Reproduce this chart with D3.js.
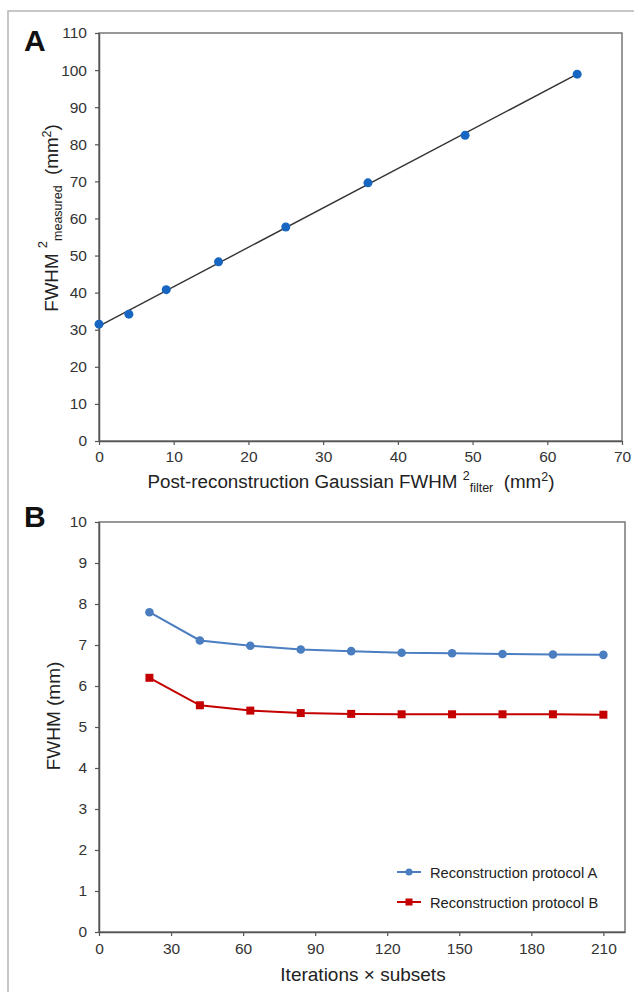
<!DOCTYPE html>
<html>
<head>
<meta charset="utf-8">
<script src="https://cdn.jsdelivr.net/npm/d3@7"></script>
<style>
  html, body { margin: 0; padding: 0; background: #fff; }
  svg { display: block; font-family: Arial, "Liberation Sans", sans-serif; }
</style>
</head>
<body>
<svg id="chart" width="634" height="992"></svg>
<script>
// ---------- Panel A data ----------
const aFilterSq = [0, 4, 9, 16, 25, 36, 49, 64];
const aMeasuredSq = [31.5, 34.2, 40.8, 48.3, 57.7, 69.6, 82.4, 98.9];
const aFitX = [0, 64];
const aFitY = [31.0, 98.9];
const aXTicks = [0, 10, 20, 30, 40, 50, 60, 70];
const aYTicks = [0, 10, 20, 30, 40, 50, 60, 70, 80, 90, 100, 110];

// ---------- Panel B data ----------
const bIterSubsets = [21, 42, 63, 84, 105, 126, 147, 168, 189, 210];
const bProtocolA = [7.80, 7.11, 6.98, 6.89, 6.85, 6.81, 6.80, 6.78, 6.77, 6.76];
const bProtocolB = [6.20, 5.53, 5.40, 5.34, 5.32, 5.31, 5.31, 5.31, 5.31, 5.30];
const bXTicks = [0, 30, 60, 90, 120, 150, 180, 210];
const bYTicks = [0, 1, 2, 3, 4, 5, 6, 7, 8, 9, 10];
const bSeriesNames = ["Reconstruction protocol A", "Reconstruction protocol B"];

const svg = d3.select("#chart");
const axisColor = "#555";
const titleSizeA = 18.8;
const titleSizeB = 19;

// outer frame
svg.append("rect").attr("x", 8).attr("y", 11).attr("width", 700).attr("height", 1100)
  .attr("fill", "none").attr("stroke", "#b5b5b5").attr("stroke-width", 1.5);

function styleAxis(g) {
  g.selectAll(".domain").attr("stroke", axisColor).attr("stroke-width", 1.5);
  g.selectAll(".tick line").attr("stroke", axisColor).attr("stroke-width", 1.2);
  g.selectAll(".tick text").attr("font-size", 15.5).attr("fill", "#333");
}

// ================= Panel A =================
{
  const L = 99, R = 622, T = 33, B = 441;
  const x = d3.scaleLinear().domain([0, 70]).range([L, R]);
  const y = d3.scaleLinear().domain([0, 110]).range([B, T]);

  svg.append("rect").attr("x", L).attr("y", T).attr("width", R - L).attr("height", B - T)
    .attr("fill", "none").attr("stroke", "#777").attr("stroke-width", 1.5);

  const gx = svg.append("g").attr("transform", `translate(0,${B})`)
    .call(d3.axisBottom(x).tickValues(aXTicks).tickSize(4).tickSizeOuter(0).tickPadding(6));
  styleAxis(gx);
  const gy = svg.append("g").attr("transform", `translate(${L},0)`)
    .call(d3.axisLeft(y).tickValues(aYTicks).tickSize(4).tickSizeOuter(0).tickPadding(8));
  styleAxis(gy);

  // fit line
  const fit = aFitX.map((v, i) => [v, aFitY[i]]);
  svg.append("path").datum(fit)
    .attr("d", d3.line().x(d => x(d[0])).y(d => y(d[1])))
    .attr("fill", "none").attr("stroke", "#333").attr("stroke-width", 1.4);

  svg.append("g").selectAll("circle").data(aFilterSq.map((v, i) => [v, aMeasuredSq[i]]))
    .join("circle")
    .attr("cx", d => x(d[0])).attr("cy", d => y(d[1])).attr("r", 4.5)
    .attr("fill", "#1766c2");

  svg.append("text").attr("x", 24).attr("y", 51).attr("font-size", 30)
    .attr("font-weight", "bold").attr("fill", "#111").text("A");

  // x title
  const xt = svg.append("text").attr("x", 351).attr("y", 488).attr("text-anchor", "middle")
    .attr("font-size", titleSizeA).attr("fill", "#222");
  xt.append("tspan").text("Post-reconstruction Gaussian FWHM ");
  xt.append("tspan").attr("font-size", 12.5).attr("dy", -8).text("2");
  xt.append("tspan").attr("font-size", 12.5).attr("dy", 12).text("filter");
  xt.append("tspan").attr("dy", -4).text("\u00a0 (mm");
  xt.append("tspan").attr("font-size", 12.5).attr("dy", -7).text("2");
  xt.append("tspan").attr("dy", 7).text(")");

  // y title
  const yt = svg.append("text").attr("transform", `translate(58,218) rotate(-90)`)
    .attr("text-anchor", "middle").attr("font-size", titleSizeA).attr("fill", "#222");
  yt.append("tspan").text("FWHM ");
  yt.append("tspan").attr("font-size", 13).attr("dy", -11).text("2");
  yt.append("tspan").attr("font-size", 12.5).attr("dy", 15).text("measured");
  yt.append("tspan").attr("dy", -4).text("\u00a0 (mm");
  yt.append("tspan").attr("font-size", 12.5).attr("dy", -7).text("2");
  yt.append("tspan").attr("dy", 7).text(")");
}

// ================= Panel B =================
{
  const L = 99, R = 625, T = 522, B = 932;
  const x = d3.scaleLinear().domain([0, 219]).range([L, R]);
  const y = d3.scaleLinear().domain([0, 10]).range([B, T]);

  svg.append("rect").attr("x", L).attr("y", T).attr("width", R - L).attr("height", B - T)
    .attr("fill", "none").attr("stroke", "#777").attr("stroke-width", 1.5);

  const gx = svg.append("g").attr("transform", `translate(0,${B})`)
    .call(d3.axisBottom(x).tickValues(bXTicks).tickSize(4).tickSizeOuter(0).tickPadding(7));
  styleAxis(gx);
  const gy = svg.append("g").attr("transform", `translate(${L},0)`)
    .call(d3.axisLeft(y).tickValues(bYTicks).tickSize(4).tickSizeOuter(0).tickPadding(8));
  styleAxis(gy);

  const colA = "#4a7ec0", colB = "#c40000";
  const line = d3.line().x(d => x(d[0])).y(d => y(d[1]));
  const dA = bIterSubsets.map((v, i) => [v, bProtocolA[i]]);
  const dB = bIterSubsets.map((v, i) => [v, bProtocolB[i]]);

  svg.append("path").datum(dA).attr("d", line).attr("fill", "none")
    .attr("stroke", colA).attr("stroke-width", 2);
  svg.append("g").selectAll("circle").data(dA).join("circle")
    .attr("cx", d => x(d[0])).attr("cy", d => y(d[1])).attr("r", 4.3).attr("fill", colA);

  svg.append("path").datum(dB).attr("d", line).attr("fill", "none")
    .attr("stroke", colB).attr("stroke-width", 2);
  svg.append("g").selectAll("rect").data(dB).join("rect")
    .attr("x", d => x(d[0]) - 4).attr("y", d => y(d[1]) - 4)
    .attr("width", 8).attr("height", 8).attr("fill", colB);

  // legend
  const lg = svg.append("g");
  const rows = [
    { name: bSeriesNames[0], color: colA, shape: "circle", y: 872 },
    { name: bSeriesNames[1], color: colB, shape: "square", y: 902 }
  ];
  rows.forEach(r => {
    lg.append("line").attr("x1", 397).attr("x2", 421).attr("y1", r.y).attr("y2", r.y)
      .attr("stroke", r.color).attr("stroke-width", 2);
    if (r.shape === "circle") {
      lg.append("circle").attr("cx", 409).attr("cy", r.y).attr("r", 3.5).attr("fill", r.color);
    } else {
      lg.append("rect").attr("x", 405.5).attr("y", r.y - 3.5).attr("width", 7).attr("height", 7).attr("fill", r.color);
    }
    lg.append("text").attr("x", 430).attr("y", r.y + 5.5).attr("font-size", 14.7)
      .attr("fill", "#222").text(r.name);
  });

  svg.append("text").attr("x", 24).attr("y", 527).attr("font-size", 30)
    .attr("font-weight", "bold").attr("fill", "#111").text("B");

  svg.append("text").attr("x", 363).attr("y", 981).attr("text-anchor", "middle")
    .attr("font-size", titleSizeB).attr("fill", "#222").text("Iterations \u00d7 subsets");

  svg.append("text").attr("transform", `translate(60,716) rotate(-90)`)
    .attr("text-anchor", "middle").attr("font-size", titleSizeB).attr("fill", "#222").text("FWHM (mm)");
}
</script>
</body>
</html>
